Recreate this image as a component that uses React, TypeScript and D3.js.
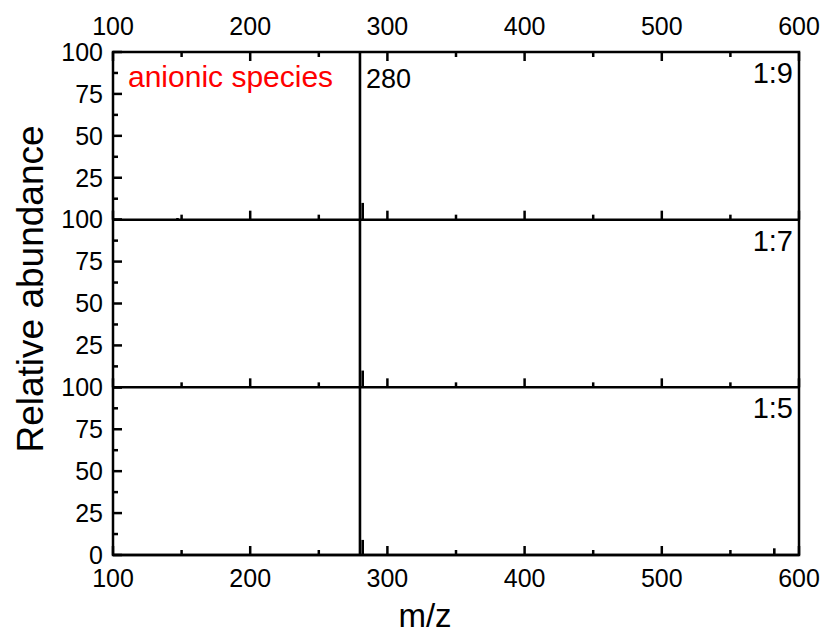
import React from "react";
import * as d3 from "d3";

const panelLabels = ["1:9", "1:7", "1:5"];
const peakMz: number[][] = [
  [147, 280, 282],
  [280, 282],
  [280, 282, 582],
];
const peakAbundance: number[][] = [
  [1, 100, 10],
  [100, 10],
  [100, 9, 4],
];
const xMajorTicks = [100, 200, 300, 400, 500, 600];
const xMinorTicks = [150, 250, 350, 450, 550];
const yMajorTicks = [0, 25, 50, 75, 100];
const yMinorTicks = [12.5, 37.5, 62.5, 87.5];

const W = 826;
const H = 635;
const L = 113;
const R = 799;
const T = 52;
const B = 555;
const FONT = "'Liberation Sans', Arial, Helvetica, sans-serif";

export default function App() {
  const x = d3.scaleLinear().domain([100, 600]).range([L, R]);
  const ph = (B - T) / 3;
  const panels = panelLabels.map((lab, i) => {
    const top = T + i * ph;
    const y = d3.scaleLinear().domain([0, 100]).range([top + ph, top]);
    return { lab, i, top, y };
  });
  const sw = 2.5;
  return (
    <svg width={W} height={H} style={{ position: "absolute", left: 0, top: 0, background: "#fff" }} fontFamily={FONT}>
      <rect x={0} y={0} width={W} height={H} fill="#fff" />
      {panels.map(({ lab, i, top, y }) => (
        <g key={lab}>
          {peakMz[i].map((mz, k) => (
            <line key={k} x1={x(mz)} x2={x(mz)} y1={y(0)} y2={y(peakAbundance[i][k])} stroke="#000" strokeWidth={2.6} />
          ))}
          {yMajorTicks.map((t) => (
            <line key={"ym" + t} x1={L} x2={L + 9} y1={y(t)} y2={y(t)} stroke="#000" strokeWidth={sw} />
          ))}
          {yMinorTicks.map((t) => (
            <line key={"yn" + t} x1={L} x2={L + 5} y1={y(t)} y2={y(t)} stroke="#000" strokeWidth={sw} />
          ))}
          {yMajorTicks
            .filter((t) => t > 0 || i === 2)
            .map((t) => (
              <text key={"yl" + t} x={L - 10} y={y(t)} dy="0.35em" textAnchor="end" fontSize={25} fill="#000">
                {t}
              </text>
            ))}
          {xMajorTicks.map((t) => (
            <line key={"xm" + t} x1={x(t)} x2={x(t)} y1={y(0)} y2={y(0) - 9} stroke="#000" strokeWidth={sw} />
          ))}
          {xMinorTicks.map((t) => (
            <line key={"xn" + t} x1={x(t)} x2={x(t)} y1={y(0)} y2={y(0) - 5} stroke="#000" strokeWidth={sw} />
          ))}
          <line x1={L} x2={R} y1={y(0)} y2={y(0)} stroke="#000" strokeWidth={sw} />
          <text x={793} y={top + 31} textAnchor="end" fontSize={29} fill="#000">
            {lab}
          </text>
        </g>
      ))}
      {xMajorTicks.map((t) => (
        <line key={"tm" + t} x1={x(t)} x2={x(t)} y1={T} y2={T + 9} stroke="#000" strokeWidth={sw} />
      ))}
      {xMinorTicks.map((t) => (
        <line key={"tn" + t} x1={x(t)} x2={x(t)} y1={T} y2={T + 5} stroke="#000" strokeWidth={sw} />
      ))}
      <rect x={L} y={T} width={R - L} height={B - T} fill="none" stroke="#000" strokeWidth={sw} />
      {xMajorTicks.map((t) => (
        <text key={"tl" + t} x={x(t)} y={35} textAnchor="middle" fontSize={25} fill="#000">
          {t}
        </text>
      ))}
      {xMajorTicks.map((t) => (
        <text key={"bl" + t} x={x(t)} y={587} textAnchor="middle" fontSize={25} fill="#000">
          {t}
        </text>
      ))}
      <text x={128} y={87} fontSize={30} fill="#ff0000">
        anionic species
      </text>
      <text x={366} y={88} fontSize={27} fill="#000">
        280
      </text>
      <text x={425} y={627} textAnchor="middle" fontSize={33} fill="#000">
        m/z
      </text>
      <text transform={`translate(43,289) rotate(-90)`} textAnchor="middle" fontSize={37} fill="#000">
        Relative abundance
      </text>
    </svg>
  );
}
